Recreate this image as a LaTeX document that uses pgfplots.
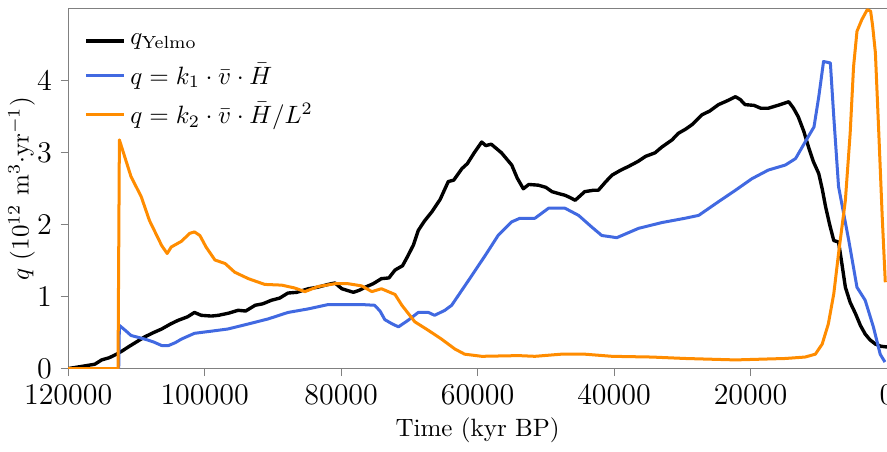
\documentclass[border=0pt]{standalone}
\usepackage{pgfplots}
\pgfplotsset{compat=1.18}
\definecolor{qblue}{RGB}{65,105,225}
\definecolor{qorange}{RGB}{255,140,0}
\begin{document}
\begin{tikzpicture}[trim axis right]
\begin{axis}[
    width=327pt, height=143.6pt,
    scale only axis,
    xmin=0, xmax=120000, x dir=reverse,
    ymin=0, ymax=5,
    xtick={0,20000,...,120000},
    ytick={0,1,2,3,4},
    scaled x ticks=false,
    xticklabel style={/pgf/number format/fixed, /pgf/number format/precision=0,
        /pgf/number format/set thousands separator={}},
    tick label style={font=\large},
    tick align=outside,
    tick pos=left,
    major tick length=3pt,
    axis line style={gray},
    every tick/.style={gray},
    xlabel={Time (kyr BP)},
    ylabel={$q$ ($10^{12}$ m$^3\cdot$yr$^{-1}$)},
    ylabel style={yshift=-6pt},
    xlabel style={yshift=1.5pt},
    legend style={draw=none, fill=none, at={(0.01,0.96)}, anchor=north west,
        row sep=2pt},
    legend cell align=left,
    legend image code/.code={\draw[#1] (0pt,0pt) -- (15pt,0pt);},
    every axis plot/.append style={line width=1.2pt, line join=round},
]
\addplot[black, line width=1.35pt] coordinates {
(120000,0.00) (118000,0.03) (116100,0.06) (115100,0.12) (114000,0.15)
(112900,0.20) (112000,0.25) (111200,0.30) (110000,0.37) (108800,0.44)
(107500,0.50) (106300,0.55) (105000,0.62) (103900,0.67) (102500,0.72)
(101500,0.78) (100500,0.74) (99000,0.73) (98000,0.74) (96500,0.77)
(95100,0.81) (94000,0.80) (92600,0.88) (91500,0.90) (90200,0.95)
(89000,0.98) (87800,1.05) (86500,1.06) (84800,1.11) (83500,1.13)
(81900,1.17) (80900,1.19) (79900,1.11) (78200,1.06) (77300,1.09)
(76500,1.13) (75300,1.18) (74100,1.25) (73000,1.26) (72100,1.37)
(71000,1.43) (70200,1.57) (69400,1.72) (68700,1.92) (67800,2.05)
(66700,2.18) (65500,2.35) (64300,2.60) (63500,2.62) (62300,2.78)
(61500,2.85) (60500,3.00) (59400,3.15) (58800,3.10) (58000,3.12)
(57500,3.08) (56500,3.00) (55000,2.83) (54200,2.65) (53300,2.50)
(52500,2.56) (51100,2.55) (50000,2.52) (49100,2.46) (48000,2.43)
(47200,2.41) (46500,2.38) (45700,2.34) (44300,2.46) (43000,2.48)
(42300,2.48) (41200,2.60) (40300,2.69) (39000,2.76) (37900,2.81)
(36500,2.88) (35400,2.95) (34000,3.00) (33000,3.08) (31500,3.18)
(30600,3.27) (29500,3.33) (28600,3.39) (27100,3.53) (26000,3.58)
(24700,3.67) (23500,3.72) (22200,3.78) (21500,3.74) (20800,3.67)
(19500,3.66) (18500,3.62) (17400,3.62) (16000,3.66) (14400,3.71)
(13700,3.62) (13000,3.50) (12200,3.30) (11500,3.08) (10800,2.88)
(10000,2.71) (9500,2.50) (9000,2.25) (8400,2.00) (7800,1.78)
(7100,1.76) (6600,1.45) (6100,1.13) (5400,0.92) (4600,0.76)
(3900,0.60) (3200,0.48) (2500,0.40) (1700,0.34) (900,0.31) (0,0.30)
};
\addlegendentry{$q_{\mathrm{Yelmo}}$}
\addplot[qblue] coordinates {
(120000,0) (112600,0) (112500,0.60) (111500,0.52) (110800,0.46)
(108800,0.41) (107500,0.37) (106300,0.32) (105300,0.32) (104300,0.36)
(103400,0.41) (101500,0.49) (99000,0.52) (96600,0.55) (93600,0.62)
(90700,0.69) (87800,0.78) (84800,0.83) (81900,0.89) (79000,0.89)
(77000,0.89) (75100,0.88) (74300,0.80) (73600,0.68) (72500,0.62)
(71600,0.58) (70200,0.67) (68700,0.78) (67200,0.78) (66300,0.74)
(64800,0.81) (63800,0.88) (62300,1.09) (61300,1.23) (58900,1.57)
(57000,1.85) (55000,2.04) (53800,2.09) (51600,2.09) (49600,2.23)
(47200,2.23) (45200,2.13) (43300,1.97) (41800,1.85) (39600,1.82)
(36400,1.95) (33000,2.03) (29600,2.09) (27600,2.13) (24700,2.32)
(22200,2.48) (19800,2.64) (17400,2.76) (14900,2.83) (13400,2.92)
(12000,3.15) (10700,3.36) (10000,3.78) (9300,4.27) (8300,4.25)
(7800,3.50) (7100,2.53) (5600,1.78) (4400,1.13) (3200,0.95)
(2000,0.58) (1000,0.20) (300,0.09)
};
\addlegendentry{$q = k_1 \cdot \bar{v} \cdot \bar{H}$}
\addplot[qorange] coordinates {
(120000,0) (112700,0) (112500,3.18) (110800,2.67) (109300,2.39)
(108100,2.06) (106300,1.71) (105500,1.60) (104900,1.69) (103400,1.77)
(102200,1.88) (101500,1.90) (100700,1.85) (99800,1.69) (98500,1.51)
(97000,1.46) (95600,1.34) (93600,1.25) (91200,1.17) (88700,1.16)
(86800,1.12) (85300,1.07) (83400,1.14) (80900,1.18) (79000,1.18)
(77000,1.15) (75500,1.07) (74100,1.11) (72100,1.03) (71100,0.88)
(69200,0.65) (67200,0.53) (65300,0.41) (63300,0.27) (61900,0.20)
(59400,0.17) (54000,0.18) (51600,0.17) (47700,0.20) (44300,0.20)
(40300,0.17) (34500,0.16) (29600,0.14) (22200,0.12) (14900,0.14)
(12000,0.16) (10500,0.20) (9500,0.34) (8600,0.62) (7800,1.04)
(7100,1.60) (6100,2.34) (5400,3.27) (4900,4.20) (4400,4.69)
(3700,4.85) (2900,4.99) (2400,4.97) (2100,4.76) (1700,4.39)
(1200,3.27) (700,2.11) (250,1.20)
};
\addlegendentry{$q = k_2 \cdot \bar{v} \cdot \bar{H}/L^2$}
\end{axis}
\path ([yshift=3.6pt]current axis.north);
\end{tikzpicture}
\end{document}
